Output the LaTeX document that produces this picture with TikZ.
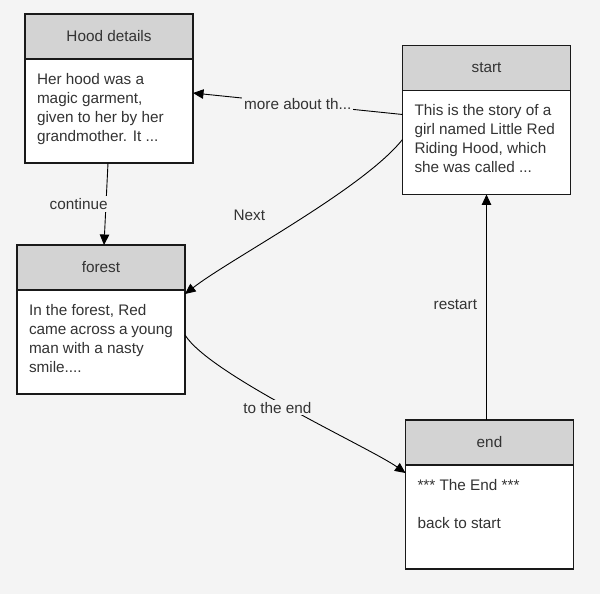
\documentclass[tikz,border=0pt]{standalone}
\usepackage{fontspec}
\setmainfont{Liberation Sans}
\usepackage{xcolor}
\usetikzlibrary{arrows.meta, positioning}
\definecolor{bgcol}{HTML}{F4F4F4}
\definecolor{headcol}{HTML}{D3D3D3}
\definecolor{txtcol}{HTML}{333333}
\newcommand{\cardfont}{\fontsize{15.3}{19}\selectfont}
\newcommand{\cardtext}[1]{\parbox[t][76pt][t]{144pt}{\raggedright #1}}
\tikzset{
  cardhead/.style={rectangle, draw=black!90, fill=headcol, line width=1.2pt,
                   minimum width=168pt, minimum height=45pt, inner sep=0pt,
                   outer sep=0pt, text=txtcol, font=\cardfont},
  cardbody/.style={rectangle, draw=black!90, fill=white, line width=1.2pt,
                   inner xsep=12pt, inner ysep=14pt, outer sep=0pt,
                   text=txtcol, font=\cardfont},
  arrow/.style={-{Triangle[length=10.5pt, width=9.5pt]}, draw=black, line width=0.9pt},
  lbl/.style={fill=bgcol, inner sep=2pt, text=txtcol, font=\cardfont},
}

\begin{document}
\begin{tikzpicture}[x=1pt, y=1pt]
  % Canvas
  \fill[bgcol] (0,0) rectangle (600,594);
  \useasboundingbox (0,0) rectangle (600,594);

  % Hood details
  \node[cardhead] (hoodhead) at (109,557.5) {Hood details};
  \node[cardbody, below=0pt of hoodhead] (hoodbody)
    {\cardtext{Her hood was a\\ magic garment,\\ given to her by her\\ grandmother. It ...}};

  % Start
  \node[cardhead] (starthead) at (486.5,526) {start};
  \node[cardbody, below=0pt of starthead] (startbody)
    {\cardtext{This is the story of a\\ girl named Little Red\\ Riding Hood, which\\ she was called ...}};

  % Forest
  \node[cardhead] (foresthead) at (101,326.5) {forest};
  \node[cardbody, below=0pt of foresthead] (forestbody)
    {\cardtext{In the forest, Red\\ came across a young\\ man with a nasty\\ smile....}};

  % End
  \node[cardhead] (endhead) at (489.5,151.5) {end};
  \node[cardbody, below=0pt of endhead] (endbody)
    {\cardtext{*** The End ***\\[19pt] back to start}};

  % Edges
  \draw[arrow] ([yshift=28pt]startbody.west) -- node[lbl] {more about th...}
    ([yshift=18pt]hoodbody.east);
  \draw[arrow] ([yshift=3pt]startbody.west) .. controls +(-40,-50) and +(45,35) ..
    node[lbl, pos=0.6, above left=16pt and 2pt] {Next} ([yshift=-4pt]forestbody.north east);
  \draw[arrow] ([xshift=-1pt]hoodbody.south) -- node[lbl, anchor=east, xshift=4pt] {continue}
    ([xshift=3pt]foresthead.north);
  \draw[arrow] ([yshift=7pt]forestbody.east) .. controls +(25,-40) and +(-35,25) ..
    node[lbl, pos=0.45, yshift=-6pt] {to the end} ([yshift=-8pt]endbody.north west);
  \draw[arrow] (endhead.north -| startbody.south) -- node[lbl, pos=0.51, left=7pt] {restart}
    (startbody.south);

\end{tikzpicture}
\end{document}
